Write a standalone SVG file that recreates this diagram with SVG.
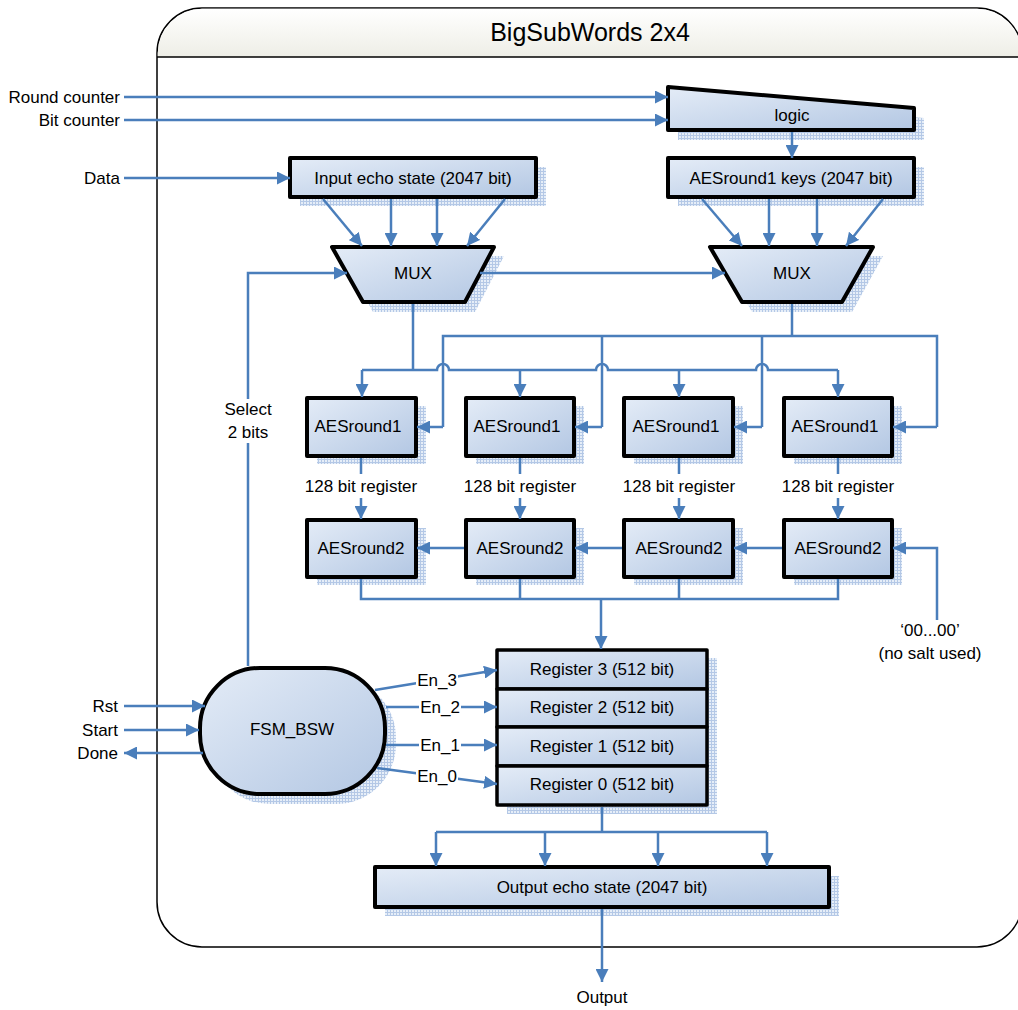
<svg xmlns="http://www.w3.org/2000/svg" width="1018" height="1010" viewBox="0 0 1018 1010">
<defs>
<linearGradient id="fillg" x1="0" y1="0" x2="1" y2="1">
<stop offset="0" stop-color="#e4ecf7"/>
<stop offset="1" stop-color="#b3c7e3"/>
</linearGradient>
<linearGradient id="headg" x1="0" y1="0" x2="0" y2="1">
<stop offset="0" stop-color="#ffffff"/>
<stop offset="1" stop-color="#eeeee6"/>
</linearGradient>
<pattern id="dots" width="3" height="3" patternUnits="userSpaceOnUse">
<rect width="3" height="3" fill="#e6eef8"/>
<path d="M0,0.5H3M0.5,0V3" stroke="#b4c8e6" stroke-width="1"/>
</pattern>
<marker id="ah" viewBox="0 0 12 12" refX="12" refY="6" markerWidth="13" markerHeight="13" orient="auto" markerUnits="userSpaceOnUse">
<path d="M0,0 L12,6 L0,12 z" fill="#4a7ebb"/>
</marker>
</defs>
<style>
text{font-family:"Liberation Sans",Arial,sans-serif;font-size:17px;fill:#000}
.c{text-anchor:middle}
.r{text-anchor:end}
.box{fill:url(#fillg);stroke:#000;stroke-width:4;stroke-linejoin:round}
.sh{fill:url(#dots)}
.w{fill:none;stroke:#4a7ebb;stroke-width:2.5}
.a{marker-end:url(#ah)}
.bg{fill:#fff}
</style>
<rect width="1018" height="1010" fill="#fff"/>

<g id="container">
<rect x="157" y="8" width="865" height="939" rx="45" ry="45" fill="#fff" stroke="#000" stroke-width="1.5"/>
<path d="M157.75,57 V53 A45,45 0 0 1 202,8.75 H977 A45,45 0 0 1 1021.25,53 V57 Z" fill="url(#headg)"/>
<path d="M157,57 H1022" stroke="#000" stroke-width="1.5"/>
<text class="c" x="590" y="41" style="font-size:25px">BigSubWords 2x4</text>
</g>

<g id="logic">
<path class="sh" d="M678,97 L924,118 V140 H678 Z"/>
<path class="box" d="M668,87 L914,108 V130 H668 Z"/>
<text class="c" x="792" y="121">logic</text>
</g>

<g id="input-echo">
<rect class="sh" x="300" y="167" width="246" height="39"/>
<rect class="box" x="290" y="158" width="246" height="39"/>
<text class="c" x="413" y="184">Input echo state (2047 bit)</text>
</g>

<g id="keys">
<rect class="sh" x="678" y="167" width="246" height="39"/>
<rect class="box" x="668" y="158" width="246" height="39"/>
<text class="c" x="791" y="184">AESround1 keys (2047 bit)</text>
</g>

<g id="mux-left">
<path class="sh" d="M342,256 H504 L475,312 H373 Z"/>
<path class="box" d="M332,247 H494 L465,302 H363 Z"/>
<text class="c" x="413" y="279">MUX</text>
</g>

<g id="mux-right">
<path class="sh" d="M720,256 H883 L852,312 H752 Z"/>
<path class="box" d="M710,247 H873 L842,302 H742 Z"/>
<text class="c" x="792" y="279">MUX</text>
</g>

<g id="aes1-0">
<rect class="sh" x="317" y="406" width="109" height="58"/>
<rect class="box" x="307" y="398" width="109" height="58"/>
<text class="c" x="358" y="432">AESround1</text>
</g>
<g id="aes1-1">
<rect class="sh" x="476" y="406" width="108" height="58"/>
<rect class="box" x="466" y="398" width="108" height="58"/>
<text class="c" x="517" y="432">AESround1</text>
</g>
<g id="aes1-2">
<rect class="sh" x="634" y="406" width="109" height="58"/>
<rect class="box" x="624" y="398" width="109" height="58"/>
<text class="c" x="676" y="432">AESround1</text>
</g>
<g id="aes1-3">
<rect class="sh" x="794" y="406" width="108" height="58"/>
<rect class="box" x="784" y="398" width="108" height="58"/>
<text class="c" x="835" y="432">AESround1</text>
</g>

<g id="aes2-0">
<rect class="sh" x="317" y="528" width="109" height="57"/>
<rect class="box" x="307" y="520" width="109" height="57"/>
<text class="c" x="361" y="554">AESround2</text>
</g>
<g id="aes2-1">
<rect class="sh" x="476" y="528" width="108" height="57"/>
<rect class="box" x="466" y="520" width="108" height="57"/>
<text class="c" x="520" y="554">AESround2</text>
</g>
<g id="aes2-2">
<rect class="sh" x="634" y="528" width="109" height="57"/>
<rect class="box" x="624" y="520" width="109" height="57"/>
<text class="c" x="679" y="554">AESround2</text>
</g>
<g id="aes2-3">
<rect class="sh" x="794" y="528" width="108" height="57"/>
<rect class="box" x="784" y="520" width="108" height="57"/>
<text class="c" x="838" y="554">AESround2</text>
</g>

<g id="registers">
<rect class="sh" x="507" y="658" width="210" height="156"/>
<rect class="box" x="497" y="650" width="210" height="39" style="stroke-width:3.5"/>
<rect class="box" x="497" y="689" width="210" height="38" style="stroke-width:3.5"/>
<rect class="box" x="497" y="727" width="210" height="39" style="stroke-width:3.5"/>
<rect class="box" x="497" y="766" width="210" height="39" style="stroke-width:3.5"/>
<text class="c" x="602" y="675">Register 3 (512 bit)</text>
<text class="c" x="602" y="713">Register 2 (512 bit)</text>
<text class="c" x="602" y="752">Register 1 (512 bit)</text>
<text class="c" x="602" y="790">Register 0 (512 bit)</text>
</g>

<g id="fsm">
<rect class="sh" x="210" y="678" width="186" height="126" rx="60" ry="60"/>
<rect class="box" x="200" y="668" width="185" height="126" rx="60" ry="60"/>
<text class="c" x="292" y="735">FSM_BSW</text>
</g>

<g id="output-echo">
<rect class="sh" x="385" y="876" width="454" height="40"/>
<rect class="box" x="375" y="867" width="454" height="40"/>
<text class="c" x="602" y="893">Output echo state (2047 bit)</text>
</g>

<g id="connectors">
<path class="w a" d="M124,97 H668"/>
<path class="w a" d="M124,120 H668"/>
<path class="w a" d="M124,178 H290"/>
<path class="w a" d="M792,132 V158"/>
<path class="w a" d="M323,199 L362,246"/>
<path class="w a" d="M391,199 V246"/>
<path class="w a" d="M437,199 V246"/>
<path class="w a" d="M505,199 L467,246"/>
<path class="w a" d="M702,199 L742,246"/>
<path class="w a" d="M769,199 V246"/>
<path class="w a" d="M817,199 V246"/>
<path class="w a" d="M883,199 L846,246"/>
<path class="w a" d="M480,273 H725"/>
<path class="w a" d="M248,666 V273 H347"/>
<path class="w" d="M413,304 V370"/>
<path class="w" d="M792,304 V336"/>
<path class="w" d="M443,427 V336 H937 V427"/>
<path class="w" d="M602,336 V427"/>
<path class="w" d="M762,336 V427"/>
<path class="w a" d="M443,427 H417"/>
<path class="w a" d="M602,427 H575"/>
<path class="w a" d="M762,427 H734"/>
<path class="w a" d="M937,427 H893"/>
<path class="w" d="M362,370 H437 A6,6 0 0 1 449,370 H596 A6,6 0 0 1 608,370 H756 A6,6 0 0 1 768,370 H838"/>
<path class="w a" d="M362,370 V397"/>
<path class="w a" d="M520,370 V397"/>
<path class="w a" d="M679,370 V397"/>
<path class="w a" d="M838,370 V397"/>
<path class="w" d="M361,458 V474 M520,458 V474 M679,458 V474 M838,458 V474"/>
<path class="w a" d="M361,498 V519"/>
<path class="w a" d="M520,498 V519"/>
<path class="w a" d="M679,498 V519"/>
<path class="w a" d="M838,498 V519"/>
<path class="w a" d="M782,548 H734"/>
<path class="w a" d="M622,548 H575"/>
<path class="w a" d="M464,548 H417"/>
<path class="w a" d="M937,620 V548 H893"/>
<path class="w" d="M361,579 V599 H838 V579 M520,579 V599 M679,579 V599"/>
<path class="w a" d="M601,599 V649"/>
<path class="w a" d="M124,706 H205"/>
<path class="w a" d="M124,730 H199"/>
<path class="w a" d="M203,753 H124"/>
<path class="w a" d="M375,690 L497,670"/>
<path class="w a" d="M386,707 H497"/>
<path class="w a" d="M386,745 H497"/>
<path class="w a" d="M377,768 L497,784"/>
<path class="w" d="M602,807 V832 M436,832 H767"/>
<path class="w a" d="M436,832 V866"/>
<path class="w a" d="M545,832 V866"/>
<path class="w a" d="M658,832 V866"/>
<path class="w a" d="M767,832 V866"/>
<path class="w a" d="M602,909 V982"/>
</g>

<g id="labels">
<text class="r" x="120" y="103">Round counter</text>
<text class="r" x="120" y="126">Bit counter</text>
<text class="r" x="120" y="184">Data</text>
<rect class="bg" x="220" y="399" width="56" height="44"/>
<text class="c" x="248" y="415">Select</text>
<text class="c" x="248" y="438">2 bits</text>
<text class="c" x="361" y="492">128 bit register</text>
<text class="c" x="520" y="492">128 bit register</text>
<text class="c" x="679" y="492">128 bit register</text>
<text class="c" x="838" y="492">128 bit register</text>
<text class="c" x="930" y="636">‘00...00’</text>
<text class="c" x="930" y="659">(no salt used)</text>
<text class="r" x="118" y="712">Rst</text>
<text class="r" x="118" y="736">Start</text>
<text class="r" x="118" y="759">Done</text>
<rect class="bg" x="416" y="671" width="42" height="18"/>
<text class="c" x="437" y="686">En_3</text>
<rect class="bg" x="419" y="698" width="42" height="18"/>
<text class="c" x="440" y="713">En_2</text>
<rect class="bg" x="419" y="736" width="42" height="18"/>
<text class="c" x="440" y="751">En_1</text>
<rect class="bg" x="416" y="767" width="42" height="18"/>
<text class="c" x="437" y="782">En_0</text>
<text class="c" x="602" y="1003">Output</text>
</g>
</svg>
